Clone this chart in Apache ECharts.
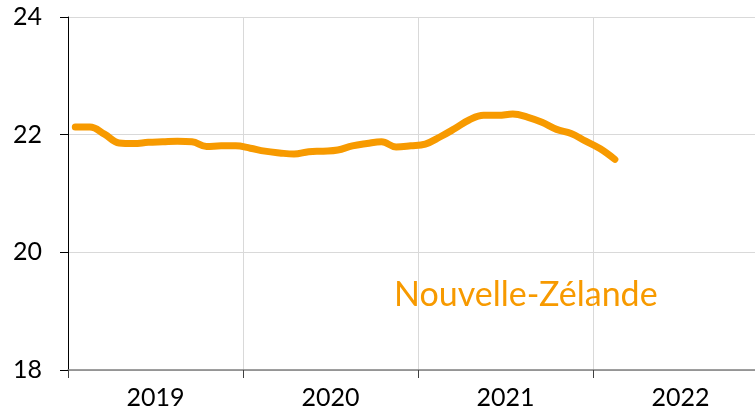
<!DOCTYPE html>
<html>
<head>
<meta charset="utf-8">
<script src="https://cdn.jsdelivr.net/npm/echarts@6/dist/echarts.min.js"></script>
<style>html,body{margin:0;padding:0;background:#fff;}#c{width:755px;height:412px;}</style>
</head>
<body>
<div id="c"></div>
<script>
const years = ['2019', '2020', '2021', '2022'];
const yTicks = [18, 20, 22, 24];
const seriesName = 'Nouvelle-Zélande';
// monthly values Jan 2019 .. Feb 2022
const values = [22.13, 22.13, 22.01, 21.86, 21.85, 21.87, 21.88, 21.89, 21.88, 21.80, 21.81, 21.81,
  21.77, 21.72, 21.69, 21.67, 21.71, 21.72, 21.74, 21.81, 21.85, 21.88, 21.79, 21.81,
  21.84, 21.96, 22.10, 22.25, 22.33, 22.33, 22.35, 22.30, 22.21, 22.09, 22.02, 21.89,
  21.76, 21.58];

const data = values.map((v, i) => [i + 0.5, v]);
const chart = echarts.init(document.getElementById('c'));
const orange = '#F79A00';
chart.setOption({
  animation: false,
  grid: { left: 68, top: 17, width: 700, height: 353, containLabel: false, outerBoundsMode: 'none' },
  title: {
    text: seriesName, left: 394, top: 278, padding: 0,
    textStyle: { color: orange, fontSize: 34, fontWeight: 'normal', fontFamily: 'Lato' }
  },
  xAxis: [
    {
      type: 'category', data: years, boundaryGap: true, position: 'bottom',
      axisLine: { show: true, lineStyle: { color: '#7f7f7f', width: 1.5 } },
      axisTick: { show: true, length: 8, lineStyle: { color: '#404040' } },
      axisLabel: { color: '#000', fontSize: 25, fontFamily: 'Lato', margin: 15 },
      splitLine: { show: true, lineStyle: { color: '#d9d9d9', width: 1 } }
    },
    { type: 'value', min: 0, max: 48, show: false }
  ],
  yAxis: {
    type: 'value', min: 18, max: 24, interval: 2,
    axisLine: { show: true, lineStyle: { color: '#000', width: 1 } },
    axisTick: { show: true, length: 8, lineStyle: { color: '#000' } },
    axisLabel: { color: '#000', fontSize: 25, fontFamily: 'Lato', margin: 26 },
    splitLine: { show: true, lineStyle: { color: '#d9d9d9', width: 1 } }
  },
  series: [{
    name: seriesName, type: 'line', xAxisIndex: 1, data: data, smooth: 0.4,
    showSymbol: false, lineStyle: { color: orange, width: 7, cap: 'round' }
  }]
});
</script>
</body>
</html>
